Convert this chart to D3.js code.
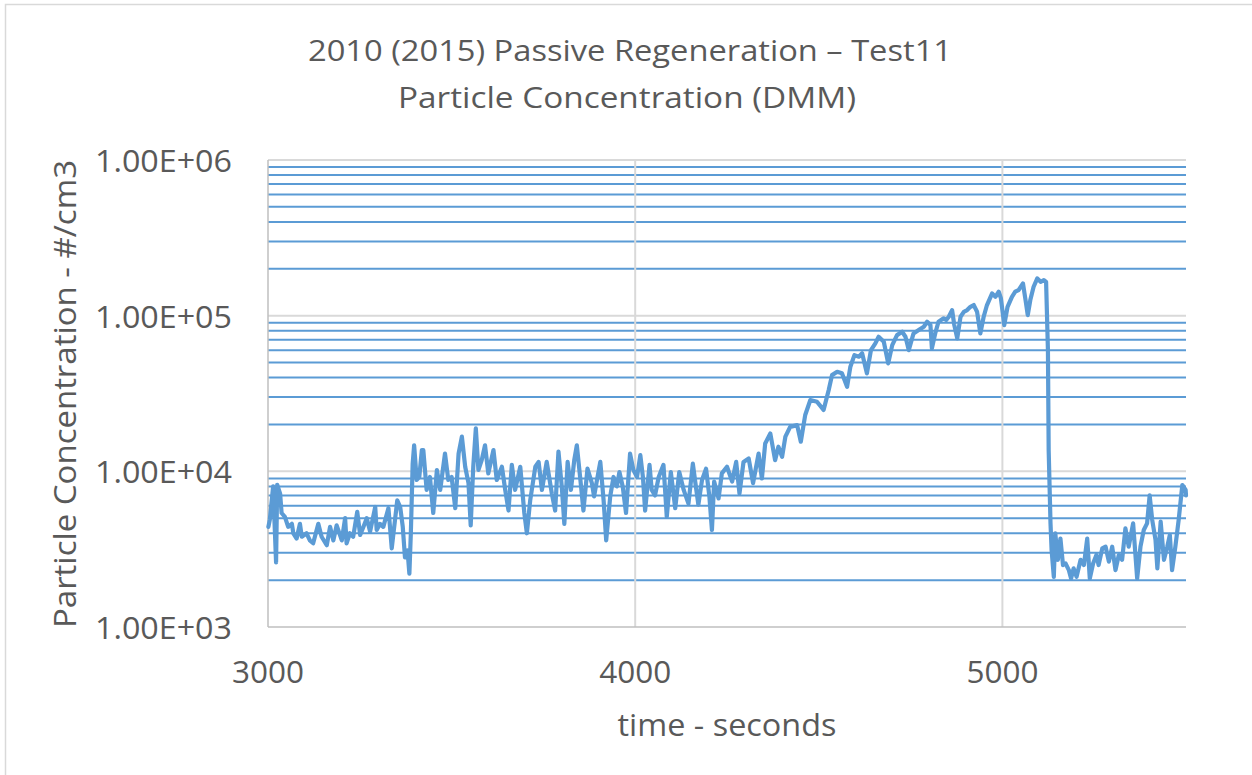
<!DOCTYPE html>
<html><head><meta charset="utf-8">
<script src="https://cdn.jsdelivr.net/npm/d3@7"></script>
<style>
body{margin:0;background:#fff}
svg{display:block}
text{font-family:"Open Sans",sans-serif;fill:#595959}
</style>
</head><body>
<svg id="c" width="1252" height="775"></svg>
<script>
// ---- data ----
const times = [
3001,3005,3014,3022,3025,3033,3037,3046,3055,3065,3069,3078,3087,3092,3105,3114,3123,3137,3146,3160,
3169,3178,3187,3201,3210,3214,3223,3232,3243,3251,3260,3269,3278,3292,3296,3305,3314,3328,3337,3346,
3352,3360,3367,3373,3380,3385,3389,3394,3398,3405,3412,3419,3423,3432,3441,3450,3460,3469,3482,3491,
3500,3510,3519,3528,3537,3546,3552,3559,3566,3573,3582,3591,3600,3614,3623,3637,3646,3655,3664,3673,
3687,3698,3705,3714,3728,3737,3746,3759,3773,3782,3791,3800,3807,3816,3825,3834,3841,3850,3859,3870,
3882,3888,3896,3905,3914,3921,3932,3941,3950,3957,3966,3975,3986,3995,4005,4014,4021,4027,4039,4045,
4054,4064,4077,4086,4097,4109,4120,4132,4145,4157,4164,4172,4182,4193,4202,4209,4215,4227,4236,4250,
4264,4275,4284,4295,4309,4321,4336,4345,4354,4368,4381,4390,4400,4409,4422,4441,4451,4463,4477,4495,
4513,4527,4536,4550,4563,4577,4586,4597,4609,4618,4631,4642,4654,4663,4677,4689,4700,4713,4727,4736,
4745,4758,4772,4786,4795,4804,4808,4817,4826,4840,4847,4854,4863,4869,4877,4886,4895,4904,4913,4922,
4931,4940,4949,4958,4972,4981,4990,4996,5005,5014,5026,5035,5044,5056,5063,5069,5076,5085,5095,5104,
5113,5119,5124,5126,5131,5134,5140,5144,5151,5158,5165,5172,5181,5187,5194,5202,5213,5222,5231,5238,
5247,5256,5262,5272,5281,5290,5299,5308,5317,5326,5335,5344,5356,5367,5376,5385,5394,5401,5408,5417,
5422,5431,5440,5449,5456,5462,5471,5480,5490,5499,5500
];
const concentrations = [
4400,4900,8000,2600,8200,7200,5400,5100,4400,4600,4000,3700,4600,3800,4000,3600,3450,4600,3800,3350,
4400,3600,4500,3600,5000,3450,4000,3800,5500,3900,4400,5000,4100,5900,4200,4600,4400,5800,3200,4900,
6500,5900,4400,2800,3100,2200,4000,11200,14700,8800,9200,13700,13700,7600,9200,5400,10200,7600,13000,8800,
9200,5800,13000,16700,10700,8400,4500,10700,18900,10200,11800,14700,9700,13700,8800,10700,7600,5600,11000,7600,
10700,5400,4000,6500,10700,11500,7600,11500,7200,5600,13400,8000,4600,11500,7600,11800,14700,9200,5600,10400,
8400,6900,8800,11500,6500,3600,6900,9200,8000,9900,8000,5400,13000,10200,9200,12700,9200,5600,11000,7600,
7000,9200,11000,5100,9900,5800,9900,7600,6200,11200,8400,6100,8800,10400,6900,4200,8600,6700,9700,10700,
8600,11500,7200,11500,12100,8400,13000,9000,15100,17500,11800,14400,12400,16700,19300,19800,15500,23000,28700,28000,
24800,33300,41500,43600,42600,34900,47000,55800,54500,57300,42600,60100,66400,73200,68000,49400,64700,75000,78800,73200,
60100,76900,80800,84900,91400,87000,61700,76900,91400,96100,93700,98400,108600,87000,71500,98400,105900,108600,114000,117000,
105900,76900,98400,117000,139000,132200,142500,129100,87000,114000,132200,142500,146000,161200,126000,100900,126000,153400,173600,165000,
169300,165000,60100,13700,4630,3120,2100,4000,2700,3700,2500,2560,2320,2050,2380,2100,2700,2500,3700,2050,
2560,2900,2500,3200,3280,2630,3280,2320,2900,2700,4300,3280,4630,2050,3280,4200,4630,7000,4870,3620,
2380,4750,2700,3280,3900,2320,3280,4870,8170,7600,7000
];
const xTickValues = [3000, 4000, 5000];
const xTickLabels = ["3000", "4000", "5000"];
const yTickValues = [1e3, 1e4, 1e5, 1e6];
const yTickLabels = ["1.00E+03", "1.00E+04", "1.00E+05", "1.00E+06"];
const titleLines = ["2010 (2015) Passive Regeneration \u2013 Test11", "Particle Concentration (DMM)"];
const xTitle = "time - seconds";
const yTitle = "Particle Concentration - #/cm3";

// ---- layout ----
const W = 1252, H = 775;
const svg = d3.select("#c");
const x = d3.scaleLinear().domain([3000, 5500]).range([268, 1186]);
const y = d3.scaleLog().domain([1e3, 1e6]).range([627, 160]);
const [x0, x1] = x.range();
const [yb, yt] = y.range();

svg.append("rect").attr("x", 5.5).attr("y", 4.5).attr("width", W + 20).attr("height", H + 20)
  .attr("fill", "#fff").attr("stroke", "#D9D9D9").attr("stroke-width", 1.5);

const isPow10 = v => Math.abs(Math.log10(v) - Math.round(Math.log10(v))) < 1e-9;

// minor horizontal gridlines (blue)
svg.append("g").selectAll("line").data(y.ticks().filter(v => !isPow10(v))).join("line")
  .attr("x1", x0).attr("x2", x1).attr("y1", d => y(d)).attr("y2", d => y(d))
  .attr("stroke", "#5B9BD5").attr("stroke-width", 2);

// major horizontal gridlines (gray)
svg.append("g").selectAll("line").data(yTickValues.filter(v => v > 1e3)).join("line")
  .attr("x1", x0).attr("x2", x1).attr("y1", d => y(d)).attr("y2", d => y(d))
  .attr("stroke", "#D9D9D9").attr("stroke-width", 2);

// vertical gridlines
svg.append("g").selectAll("line").data(xTickValues.filter(v => v > 3000)).join("line")
  .attr("x1", d => x(d)).attr("x2", d => x(d)).attr("y1", yt).attr("y2", yb)
  .attr("stroke", "#D9D9D9").attr("stroke-width", 2);

// axes lines
svg.append("line").attr("x1", x0).attr("x2", x0).attr("y1", yt).attr("y2", yb)
  .attr("stroke", "#BFBFBF").attr("stroke-width", 1.5);
svg.append("line").attr("x1", x0).attr("x2", x1).attr("y1", yb).attr("y2", yb)
  .attr("stroke", "#BFBFBF").attr("stroke-width", 1.5);

// data line
const pts = times.map((t, i) => [t, concentrations[i]]);
svg.append("path").datum(pts)
  .attr("d", d3.line().x(d => x(d[0])).y(d => y(d[1])))
  .attr("fill", "none").attr("stroke", "#5B9BD5").attr("stroke-width", 4.2)
  .attr("stroke-linejoin", "round").attr("stroke-linecap", "round");

// tick labels
svg.append("g").selectAll("text").data(yTickValues).join("text")
  .attr("x", 232).attr("y", d => y(d) + 12).attr("text-anchor", "end")
  .attr("font-size", 31).attr("textLength", 137).attr("lengthAdjust", "spacingAndGlyphs")
  .text((d, i) => yTickLabels[i]);
svg.append("g").selectAll("text").data(xTickValues).join("text")
  .attr("x", d => x(d)).attr("y", 683).attr("text-anchor", "middle")
  .attr("font-size", 31).attr("textLength", 72).attr("lengthAdjust", "spacingAndGlyphs")
  .text((d, i) => xTickLabels[i]);

// titles
svg.append("text").attr("x", 630).attr("y", 61).attr("text-anchor", "middle")
  .attr("font-size", 30).attr("textLength", 644).attr("lengthAdjust", "spacingAndGlyphs").text(titleLines[0]);
svg.append("text").attr("x", 627).attr("y", 108).attr("text-anchor", "middle")
  .attr("font-size", 30).attr("textLength", 458).attr("lengthAdjust", "spacingAndGlyphs").text(titleLines[1]);
svg.append("text").attr("x", 727).attr("y", 736).attr("text-anchor", "middle")
  .attr("font-size", 31).attr("textLength", 219).attr("lengthAdjust", "spacingAndGlyphs").text(xTitle);
svg.append("text").attr("transform", "translate(76,394) rotate(-90)").attr("text-anchor", "middle")
  .attr("font-size", 31).attr("textLength", 468).attr("lengthAdjust", "spacingAndGlyphs").text(yTitle);
</script>
</body></html>
